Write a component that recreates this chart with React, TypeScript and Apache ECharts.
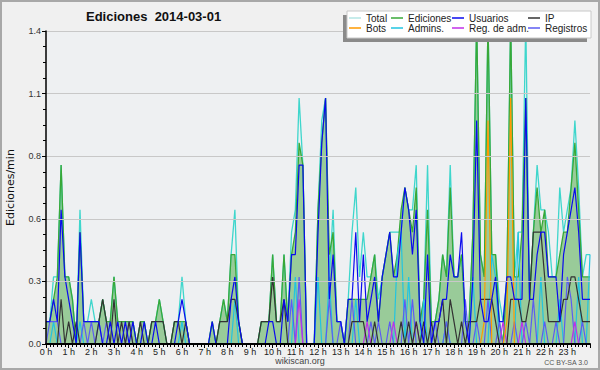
import React, { useEffect, useRef } from "react";
import * as echarts from "echarts";

// 10-minute bins, 0 h .. 24 h (145 points), values in edits/min
const total = [
  0.1, 0.1, 0.3, 0.3, 0.8, 0.3,
  0.3, 0.2, 0, 0.6, 0.1, 0.1,
  0.2, 0.1, 0.1, 0.2, 0.1, 0.1,
  0.3, 0.1, 0.1, 0.1, 0.1, 0.1,
  0, 0.1, 0.1, 0, 0.1, 0.1,
  0.2, 0.1, 0, 0, 0.1, 0.1,
  0.3, 0.1, 0, 0, 0, 0,
  0, 0, 0.1, 0, 0.1, 0.2,
  0.1, 0.4, 0.6, 0.1, 0, 0,
  0, 0, 0, 0.1, 0.1, 0.1,
  0.4, 0.1, 0.1, 0.4, 0.1, 0.5,
  0.6, 1.1, 0.8, 0, 0, 0,
  0.6, 1.0, 1.1, 0.3, 0.6, 0.1,
  0.1, 0, 0.2, 0.5, 0.7, 0.3,
  0.5, 0.3, 0.3, 0.4, 0.2, 0.3,
  0.4, 0.5, 0.5, 0.5, 0.5, 0.7,
  0.6, 0.6, 0.8, 0.1, 0.2, 0.8,
  0.1, 0.1, 0.2, 0.4, 0.3, 0.8,
  0.3, 0.3, 0.4, 0.1, 0.1, 0.5,
  1.45, 0.4, 0.3, 1.45, 0.4, 0.4,
  0.2, 0.1, 0.3, 1.45, 0.3, 0.5,
  0.5, 1.45, 0.2, 0.5, 0.8, 0.6,
  0.6, 0.5, 0.3, 0.3, 0.7, 0.5,
  0.6, 0.7, 1.0, 0.7, 0.3, 0.4,
  0.4,
];

const ediciones = [
  0.1, 0.1, 0.2, 0.3, 0.8, 0.3,
  0.3, 0.2, 0, 0.5, 0.1, 0.1,
  0.1, 0.1, 0.1, 0.2, 0.1, 0.1,
  0.3, 0.1, 0.1, 0.1, 0.1, 0.1,
  0, 0.1, 0.1, 0, 0.1, 0.1,
  0.2, 0.1, 0, 0, 0.1, 0.1,
  0.1, 0.1, 0, 0, 0, 0,
  0, 0, 0.1, 0, 0.1, 0.2,
  0.1, 0.4, 0.4, 0.1, 0, 0,
  0, 0, 0, 0.1, 0.1, 0.1,
  0.4, 0.1, 0.1, 0.4, 0.1, 0.4,
  0.5, 0.9, 0.8, 0, 0, 0,
  0.6, 0.9, 1.1, 0.4, 0.5, 0.1,
  0.1, 0, 0.2, 0.2, 0.2, 0.2,
  0.2, 0.2, 0.3, 0.4, 0.1, 0.3,
  0.4, 0.5, 0.3, 0.4, 0.6, 0.7,
  0.6, 0.5, 0.7, 0.1, 0.2, 0.6,
  0.1, 0.1, 0.2, 0.4, 0.3, 0.7,
  0.3, 0.3, 0.4, 0.1, 0.1, 0.5,
  1.45, 0.4, 0.3, 1.45, 0.4, 0.4,
  0.1, 0, 0.3, 1.45, 0.3, 0.3,
  0.5, 1.1, 0.2, 0.5, 0.7, 0.5,
  0.6, 0.3, 0.3, 0.3, 0.4, 0.5,
  0.5, 0.7, 0.9, 0.6, 0.3, 0.3,
  0.3,
];

const usuarios = [
  0.1, 0.1, 0.2, 0.1, 0.6, 0.3,
  0.2, 0.1, 0, 0.5, 0.1, 0.1,
  0.1, 0.1, 0.1, 0, 0, 0.1,
  0, 0.1, 0, 0.1, 0, 0.1,
  0, 0, 0.1, 0, 0, 0.1,
  0, 0, 0, 0, 0, 0.1,
  0.2, 0.1, 0, 0, 0, 0,
  0, 0, 0.1, 0, 0, 0,
  0, 0.2, 0.3, 0.1, 0, 0,
  0, 0, 0, 0, 0, 0.1,
  0.1, 0, 0, 0.2, 0.1, 0.4,
  0.4, 0.8, 0.8, 0, 0, 0,
  0.5, 0.9, 1.1, 0.2, 0.4, 0.1,
  0.1, 0, 0.2, 0.2, 0.5, 0.1,
  0.4, 0.1, 0.2, 0.3, 0.1, 0.3,
  0.4, 0.5, 0.3, 0.3, 0.5, 0.7,
  0.6, 0.4, 0.6, 0.1, 0, 0.4,
  0, 0.1, 0.1, 0.2, 0.2, 0.4,
  0.3, 0.3, 0.5, 0.1, 0, 0.3,
  1.0, 0.2, 0.1, 0.1, 0.2, 0.3,
  0.1, 0.1, 0.3, 0.3, 0.2, 0.2,
  0.2, 1.1, 0.2, 0.2, 0.4, 0.5,
  0.5, 0.3, 0.3, 0.3, 0.1, 0.4,
  0.5, 0.6, 0.7, 0.5, 0.2, 0.2,
  0.2,
];

const ip = [
  0, 0, 0, 0, 0.2, 0,
  0.1, 0, 0.1, 0, 0, 0,
  0, 0, 0.1, 0.2, 0.1, 0,
  0.2, 0, 0.1, 0, 0.1, 0,
  0, 0.1, 0, 0, 0.1, 0.1,
  0.1, 0.1, 0, 0, 0.1, 0.1,
  0, 0.1, 0, 0, 0, 0,
  0, 0, 0, 0, 0.1, 0.1,
  0.1, 0.2, 0.2, 0.1, 0, 0,
  0, 0, 0, 0.1, 0.1, 0.1,
  0.3, 0.1, 0.1, 0.2, 0, 0,
  0, 0, 0, 0, 0, 0,
  0, 0, 0, 0, 0, 0,
  0, 0, 0, 0.1, 0.1, 0.1,
  0.1, 0, 0, 0.1, 0, 0,
  0, 0, 0, 0, 0.1, 0,
  0.1, 0, 0.1, 0, 0.1, 0,
  0.1, 0, 0.1, 0.2, 0, 0.2,
  0.1, 0, 0.1, 0, 0.1, 0.1,
  0.1, 0.2, 0.2, 0.2, 0.2, 0.1,
  0, 0, 0, 0.2, 0.2, 0.2,
  0.1, 0.1, 0.2, 0.5, 0.5, 0.5,
  0.3, 0.1, 0.1, 0.1, 0.1, 0.2,
  0.2, 0.3, 0.3, 0.2, 0.1, 0.1,
  0.1,
];

const bots = [
  0, 0, 0, 0, 0, 0, 0, 0, 0, 0, 0, 0, // 0-1 h
  0, 0, 0, 0, 0, 0, 0, 0, 0, 0, 0, 0, // 2-3 h
  0, 0, 0, 0, 0, 0, 0, 0, 0, 0, 0, 0, // 4-5 h
  0, 0, 0, 0, 0, 0, 0, 0, 0, 0, 0, 0, // 6-7 h
  0, 0, 0, 0, 0, 0, 0, 0, 0, 0, 0, 0, // 8-9 h
  0, 0, 0, 0, 0, 0, 0, 0, 0, 0, 0, 0, // 10-11 h
  0, 0, 0, 0, 0, 0, 0, 0, 0, 0, 0, 0, // 12-13 h
  0, 0, 0, 0, 0, 0, 0, 0, 0, 0, 0, 0, // 14-15 h
  0, 0, 0, 0, 0, 0, 0, 0, 0, 0, 0, 0, // 16-17 h
  0, 0, 0, 0, 0, 0, // 18 h
  0, 0, 0.1, 1.0, 0, 0, // 19 h
  0, 0, 0.1, 1.1, 0, 0, // 20 h
  0, 0, 0, 0, 0, 0, // 21 h
  0, 0, 0, 0, 0, 0, // 22 h
  0, 0, 0, 0, 0, 0, // 23 h
  0,
];

const admins = [
  0, 0, 0.1, 0, 0, 0,
  0, 0, 0, 0.1, 0, 0,
  0, 0, 0, 0, 0, 0, 0, 0, 0, 0, 0, 0,
  0, 0, 0, 0, 0, 0, 0, 0, 0, 0, 0, 0,
  0.1, 0, 0, 0, 0, 0,
  0, 0, 0, 0, 0, 0,
  0, 0, 0.2, 0, 0, 0,
  0, 0, 0, 0, 0, 0,
  0, 0, 0, 0, 0, 0,
  0.3, 0, 0, 0, 0, 0,
  0.3, 0, 0, 0.3, 0, 0,
  0, 0, 0, 0, 0.2, 0,
  0, 0, 0, 0, 0, 0,
  0, 0, 0, 0.4, 0.5, 0,
  0.3, 0, 0, 0, 0.2, 0,
  0, 0, 0, 0, 0.1, 0,
  0, 0, 0, 0, 0, 0.3,
  0, 0, 0, 0, 0.4, 0.3,
  0, 0, 0, 0, 0, 0.5,
  0, 0, 0, 0, 0, 0.3,
  0, 0, 0, 0, 0.2, 0,
  0, 0, 0, 0.3, 0, 0,
  0.4,
];

const regAdm = [
  0, 0, 0, 0, 0, 0, 0, 0, 0, 0, 0, 0,
  0, 0, 0, 0, 0, 0, 0, 0, 0, 0, 0, 0,
  0, 0, 0, 0, 0, 0, 0, 0, 0, 0, 0, 0,
  0, 0, 0, 0, 0, 0, 0, 0, 0, 0, 0, 0,
  0, 0, 0, 0, 0, 0, 0, 0, 0, 0, 0, 0,
  0, 0, 0, 0, 0, 0,
  0, 0.2, 0, 0, 0, 0,
  0, 0, 0, 0, 0, 0,
  0, 0, 0, 0, 0, 0,
  0, 0.1, 0, 0, 0, 0,
  0, 0, 0.1, 0, 0, 0,
  0, 0, 0.1, 0, 0, 0,
  0, 0, 0, 0, 0, 0,
  0, 0, 0, 0, 0, 0,
  0, 0, 0, 0, 0, 0,
  0, 0.1, 0, 0, 0, 0,
  0.1, 0, 0, 0, 0, 0,
  0, 0, 0, 0, 0, 0,
  0, 0, 0.1, 0, 0, 0,
  0,
];

const registros = [
  0, 0.1, 0.1, 0.1, 0, 0,
  0, 0, 0, 0, 0.1, 0,
  0.1, 0, 0.1, 0, 0.1, 0,
  0, 0, 0, 0, 0.1, 0,
  0, 0, 0, 0, 0, 0, 0, 0, 0, 0, 0, 0,
  0, 0, 0, 0, 0, 0, 0, 0, 0, 0, 0, 0,
  0, 0, 0, 0, 0, 0, 0, 0, 0, 0, 0, 0,
  0, 0, 0, 0, 0, 0.2,
  0, 0.3, 0, 0, 0, 0,
  0, 0, 0, 0.2, 0, 0,
  0.1, 0, 0, 0.2, 0, 0,
  0, 0, 0.1, 0, 0.1, 0,
  0, 0.1, 0, 0, 0, 0.2,
  0, 0.2, 0, 0, 0, 0,
  0, 0.1, 0, 0, 0.1, 0,
  0, 0, 0, 0.2, 0, 0,
  0.1, 0, 0, 0.2, 0, 0,
  0.1, 0, 0, 0, 0.1, 0,
  0, 0.1, 0, 0.2, 0, 0,
  0.1, 0, 0, 0.1, 0, 0,
  0.3, 0.2, 0, 0, 0.1, 0,
  0,
];

const legendColumns = [
  ["Total", "Bots"],
  ["Ediciones", "Admins."],
  ["Usuarios", "Reg. de adm."],
  ["IP", "Registros"],
];
const legendLefts = [349, 391, 452, 528];

const TITLE = "Ediciones  2014-03-01";
const Y_NAME = "Ediciones/min";

const pts = (arr: number[]) => arr.map((v, i) => [i / 6, v]);

const lineSeries = (name: string, arr: number[], color: string, width = 1.2) => ({
  name,
  type: "line",
  data: pts(arr),
  showSymbol: false,
  symbol: "none",
  color,
  itemStyle: { color },
  lineStyle: { color, width },
  emphasis: { disabled: true },
});

export default function App() {
  const ref = useRef<HTMLDivElement>(null);

  useEffect(() => {
    if (!ref.current) return;
    const chart = echarts.init(ref.current, null, { renderer: "svg" });
    const font = "Liberation Sans";
    chart.setOption({
      animation: false,
      backgroundColor: "#f0f0f0",
      textStyle: { fontFamily: font },
      title: {
        text: TITLE,
        left: 86,
        top: 10,
        padding: 0,
        textStyle: { fontSize: 13, fontWeight: "bold", color: "#111", fontFamily: font },
      },
      grid: {
        left: 46,
        right: 10,
        top: 31,
        bottom: 26,
        show: true,
        backgroundColor: "#eef0f2",
        borderWidth: 0,
        containLabel: false,
        outerBoundsMode: "none",
      },
      xAxis: {
        type: "value",
        min: 0,
        max: 24,
        interval: 1,
        z: 5,
        axisLine: { lineStyle: { color: "#000", width: 2 } },
        axisTick: { show: true, length: 4, lineStyle: { color: "#000" } },
        minorTick: { show: true, splitNumber: 6, length: 3, lineStyle: { color: "#000" } },
        splitLine: { show: false },
        axisLabel: {
          formatter: (v: number) => `${v} h`,
          fontSize: 9,
          color: "#222",
          margin: 3,
          showMaxLabel: false,
          fontFamily: font,
        },
      },
      yAxis: {
        type: "value",
        min: 0,
        max: 1.4,
        interval: 0.28,
        z: 5,
        name: Y_NAME,
        nameLocation: "middle",
        nameGap: 30,
        nameTextStyle: { fontSize: 11, color: "#111", fontFamily: "DejaVu Sans" },
        axisLine: { show: true, lineStyle: { color: "#000", width: 1.5 } },
        axisTick: { show: true, length: 4, lineStyle: { color: "#000" } },
        minorTick: { show: true, splitNumber: 4, length: 3, lineStyle: { color: "#000" } },
        splitLine: { show: true, lineStyle: { color: "#c8c8c8", width: 1 } },
        axisLabel: {
          formatter: (v: number) => v.toFixed(1),
          fontSize: 9,
          color: "#333",
          margin: 5,
          fontFamily: font,
        },
      },
      legend: legendColumns.map((names, k) => ({
        orient: "vertical",
        left: legendLefts[k],
        top: 13,
        padding: 0,
        itemGap: 0,
        itemWidth: 12,
        itemHeight: 1.5,
        icon: "rect",
        selectedMode: false,
        z: 12,
        data: names.map((n) =>
          n === "Total" ? { name: n, itemStyle: { color: "#b4e6e4" } } : { name: n }
        ),
        textStyle: { fontSize: 10, color: "#222", lineHeight: 10, fontFamily: font },
      })),
      graphic: [
        {
          type: "rect",
          z: 10,
          shape: { x: 343, y: 15, width: 244, height: 27 },
          style: { fill: "#8a8a8a" },
        },
        {
          type: "rect",
          z: 10,
          shape: { x: 347, y: 11, width: 244, height: 27 },
          style: { fill: "#ffffff", stroke: "#c8c8c8", lineWidth: 1 },
        },
        {
          type: "text",
          z: 10,
          x: 300,
          y: 361,
          style: {
            text: "wikiscan.org",
            fill: "#444",
            fontSize: 9,
            fontFamily: font,
            align: "center",
            textAlign: "center",
            verticalAlign: "middle",
            textVerticalAlign: "middle",
          },
        },
        {
          type: "text",
          z: 10,
          x: 588,
          y: 362,
          style: {
            text: "CC BY-SA 3.0",
            fill: "#555",
            fontSize: 7,
            fontFamily: font,
            align: "right",
            textAlign: "right",
            verticalAlign: "middle",
            textVerticalAlign: "middle",
          },
        },
        {
          type: "rect",
          z: 20,
          shape: { x: 1, y: 1, width: 598, height: 368 },
          style: { fill: "none", stroke: "#a8a8a8", lineWidth: 2 },
        },
      ],
      series: [
        lineSeries("Total", total, "#3ed6cc", 1.3),
        {
          ...lineSeries("Ediciones", ediciones, "#38a838", 1.3),
          areaStyle: { color: "#99cb99", opacity: 1 },
        },
        lineSeries("Admins.", admins, "#22c4e0"),
        lineSeries("Registros", registros, "#5c5cf2"),
        lineSeries("Reg. de adm.", regAdm, "#c030e8"),
        lineSeries("IP", ip, "#333333"),
        lineSeries("Bots", bots, "#ff9a00"),
        lineSeries("Usuarios", usuarios, "#0a0aee"),
      ],
    });
    return () => chart.dispose();
  }, []);

  return (
    <div
      ref={ref}
      style={{ position: "absolute", left: 0, top: 0, width: 600, height: 370 }}
    />
  );
}
